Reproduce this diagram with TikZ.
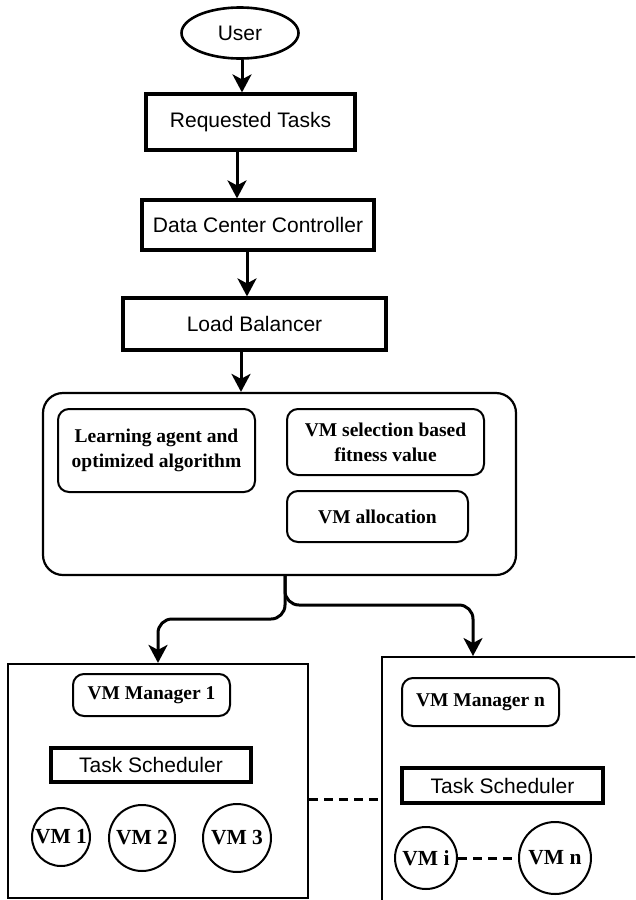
\documentclass[tikz,border=0pt]{standalone}
\usepackage{fontspec}
\setmainfont{Liberation Serif}
\newfontfamily\sansf{Liberation Sans}
\usetikzlibrary{arrows.meta,shapes.geometric,calc}

\begin{document}
\begin{tikzpicture}[x=1pt,y=-1pt,
  sbox/.style={draw, line width=3.2pt, font=\sansf\fontsize{21}{24}\selectfont, inner sep=0pt},
  rbox/.style={draw, line width=2pt, rounded corners=11pt, font=\bfseries\fontsize{19.5}{25}\selectfont, align=center, inner sep=0pt},
  outer/.style={draw, line width=2.2pt, inner sep=0pt},
  vm/.style={draw, circle, line width=2pt, inner sep=0pt, font=\bfseries\fontsize{21.5}{24}\selectfont},
  arr/.style={line width=3pt, -{Stealth[length=18pt,width=19pt,inset=5pt]}},
  dsh/.style={line width=3pt, dash pattern=on 9pt off 6pt},
]
\useasboundingbox (0,0) rectangle (635,900);
\clip (0,0) rectangle (635,900);

% top chain
\node[draw, ellipse, line width=2.6pt, minimum width=117pt, minimum height=51pt, inner sep=0pt,
      font=\sansf\fontsize{21}{24}\selectfont] (user) at (240,33) {User};
\node[sbox, minimum width=209pt, minimum height=56pt] (req) at (250.5,122) {Requested Tasks};
\node[sbox, minimum width=232pt, minimum height=50pt] (dcc) at (258,225) {Data Center Controller};
\node[sbox, minimum width=263pt, minimum height=52pt] (lb) at (254.5,324) {Load Balancer};

% core box
\node[draw, line width=2.2pt, rounded corners=20pt, minimum width=473pt, minimum height=182pt, inner sep=0pt] (core) at (279.5,484) {};
\node[rbox, minimum width=197pt, minimum height=83pt] (learn) at (156.5,450.5) {Learning agent and\\optimized algorithm};
\node[rbox, minimum width=197pt, minimum height=66pt] (sel) at (385.5,442) {VM selection based\\fitness value};
\node[rbox, minimum width=181pt, minimum height=51pt] (alloc) at (377.5,516.5) {VM allocation};

% VM manager boxes
\node[outer, minimum width=300pt, minimum height=234pt] (box1) at (158,781) {};
\node[outer, line width=2pt, minimum width=268pt, minimum height=263pt] (boxn) at (516,788.5) {};

\node[rbox, minimum width=157pt, minimum height=42pt] (mgr1) at (151.5,695) {VM Manager 1};
\node[sbox, minimum width=200pt, minimum height=34pt] (ts1) at (151,765) {Task Scheduler};
\node[vm, minimum size=58pt] (vm1) at (61,837) {VM 1};
\node[vm, minimum size=66pt] (vm2) at (142,838) {VM 2};
\node[vm, minimum size=68pt] (vm3) at (237,838) {VM 3};

\node[rbox, minimum width=157pt, minimum height=48pt] (mgrn) at (480.5,702) {VM Manager n};
\node[sbox, minimum width=201pt, minimum height=35pt] (tsn) at (502.5,785.5) {Task Scheduler};
\node[vm, minimum size=62pt] (vmi) at (426,858) {VM i};
\node[vm, minimum size=72pt] (vmn) at (555,858) {VM n};

% connectors
\draw[arr] (user.south -| 242,0) -- (req.north -| 242,0);
\draw[arr] (req.south -| 237,0) -- (dcc.north -| 237,0);
\draw[arr] (dcc.south -| 247,0) -- (lb.north -| 247,0);
\draw[arr] (lb.south -| 241,0) -- (core.north -| 241,0);

\draw[arr, rounded corners=14pt] (core.south -| 285,0) |- (473,605) -- (boxn.north -| 473,0);
\draw[arr, rounded corners=14pt] (core.south -| 285,0) |- (box1.north |- 0,619) -- (box1.north);

\draw[dsh] (box1.east |- 0,799) -- (boxn.west |- 0,799);
\draw[dsh] (vmi.east) -- (vmn.west);
\end{tikzpicture}
\end{document}
